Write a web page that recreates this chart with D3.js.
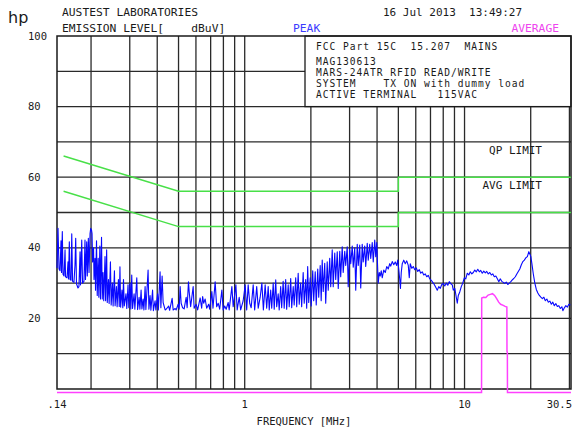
<!DOCTYPE html>
<html><head><meta charset="utf-8">
<script src="https://cdn.jsdelivr.net/npm/d3@7"></script>
<style>
html,body{margin:0;padding:0;background:#fff;}
svg text{font-family:"DejaVu Sans Mono",monospace;white-space:pre;fill:#1a1a1a;}
</style></head><body>
<svg id="chart" width="572" height="428"></svg>
<script>
// Frequency axis: labelled ticks and log grid lines (MHz)
const freqTicks = [0.14, 1, 10, 30.5];
const freqTickLabels = [".14", "1", "10", "30.5"];
const freqGrid = [0.2,0.3,0.4,0.5,0.6,0.7,0.8,0.9,1,2,3,4,5,6,7,8,9,10,20,30];
// Level axis (dBuV)
const levelTicks = [20, 40, 60, 80, 100];
const levelGrid = [10,20,30,40,50,60,70,80,90];

// FCC 15.207 conducted limits [MHz, dBuV]
const qpLimit  = [[0.15,66],[0.5,56],[5,56],[5,60],[30.5,60]];
const avgLimit = [[0.15,56],[0.5,46],[5,46],[5,50],[30.5,50]];

// Average detector trace [MHz, dBuV]
const averageTrace = [[0.14,-1],[11.95,-1],[11.97,25.8],[12.2,26.0],[12.5,25.9],[12.8,26.6],
  [13.1,26.8],[13.4,27.0],[13.7,26.5],[14.0,25.6],[14.3,24.6],[14.6,24.0],[15.0,23.7],
  [15.3,23.4],[15.58,23.2],[15.6,10.6],[15.66,10.4],[15.68,-1],[30.5,-1]];

// Peak detector trace [MHz, dBuV]
const peakTrace = [
 [0.1400,34.3],[0.1415,45.5],[0.1430,34.0],[0.1445,33.5],[0.1460,42.0],[0.1468,33.0],[0.1480,44.6],[0.1491,32.5],
 [0.1507,32.0],[0.1523,39.4],[0.1531,31.8],[0.1555,31.5],[0.1571,36.0],[0.1580,31.2],[0.1593,41.7],[0.1605,31.0],
 [0.1622,30.8],[0.1634,44.0],[0.1648,30.5],[0.1672,30.2],[0.1690,35.0],[0.1703,42.7],[0.1717,29.8],[0.1744,28.6],
 [0.1762,29.0],[0.1782,38.9],[0.1791,29.5],[0.1814,42.2],[0.1829,30.0],[0.1857,30.5],[0.1877,42.2],[0.1887,31.0],
 [0.1911,41.7],[0.1923,32.0],[0.1944,42.7],[0.1958,33.0],[0.1979,44.0],[0.1993,45.5],[0.2010,45.0],[0.2021,44.0],
 [0.2032,36.0],[0.2053,40.0],[0.2063,31.0],[0.2085,37.0],[0.2096,28.0],[0.2118,42.0],[0.2134,26.5],[0.2156,37.0],
 [0.2170,26.0],[0.2193,40.5],[0.2207,25.5],[0.2232,43.0],[0.2249,25.5],[0.2267,33.0],[0.2284,25.0],[0.2315,37.5],
 [0.2329,25.0],[0.2355,39.4],[0.2370,24.5],[0.2400,31.0],[0.2417,24.2],[0.2450,36.0],[0.2469,23.8],[0.2501,30.0],
 [0.2520,23.5],[0.2555,33.5],[0.2573,23.6],[0.2609,29.0],[0.2628,23.3],[0.2664,31.0],[0.2687,23.4],[0.2707,34.6],
 [0.2727,23.2],[0.2765,28.0],[0.2789,23.0],[0.2809,31.0],[0.2833,23.5],[0.2884,27.0],[0.2908,22.8],[0.2946,29.5],
 [0.2971,23.0],[0.3009,30.0],[0.3034,22.7],[0.3063,32.3],[0.3089,22.8],[0.3139,27.0],[0.3165,22.6],[0.3229,31.5],
 [0.3257,22.5],[0.3308,26.0],[0.3336,22.6],[0.3378,28.0],[0.3407,22.7],[0.3450,25.5],[0.3479,22.4],[0.3523,29.0],
 [0.3552,22.5],[0.3635,33.7],[0.3666,22.6],[0.3711,26.5],[0.3743,22.3],[0.3810,28.0],[0.3842,22.2],[0.3911,25.0],
 [0.3944,22.4],[0.4015,27.0],[0.4048,22.4],[0.4121,33.2],[0.4156,23.0],
 [0.4210,32.0],[0.4255,24.5],[0.4345,22.4],[0.4391,22.6],[0.4508,23.5],[0.4555,22.3],[0.4676,25.7],[0.4726,22.4],
 [0.4826,22.8],[0.4877,22.4],[0.4980,24.0],[0.5033,22.6],[0.5085,29.0],[0.5139,24.3],[0.5220,23.0],[0.5303,22.7],
 [0.5416,26.0],[0.5472,23.0],[0.5548,30.4],[0.5589,27.6],[0.5677,23.3],[0.5828,29.0],[0.5889,22.9],[0.6014,24.0],
 [0.6109,22.4],[0.6271,25.8],[0.6371,22.9],[0.6438,26.2],[0.6506,24.3],[0.6609,25.5],[0.6714,22.9],[0.6856,24.0],
 [0.6928,22.6],[0.7088,27.6],[0.7172,22.9],[0.7338,30.4],[0.7455,23.3],[0.7573,24.3],[0.7693,22.6],[0.7872,28.0],
 [0.7980,22.4],[0.8107,23.5],[0.8236,22.6],[0.8410,24.5],[0.8499,22.4],[0.8742,29.0],[0.8862,23.3],[0.9118,29.5],
 [0.9241,22.4],[0.9438,26.0],[0.9587,22.4],[0.9841,25.0],[1.005,29.5],[1.021,22.4],[1.037,29.5],[1.054,24.3],
 [1.070,23.0],[1.093,29.5],[1.110,22.4],[1.134,29.0],[1.152,22.9],[1.176,26.0],[1.197,30.0],[1.216,22.4],
 [1.239,29.5],[1.259,22.9],
 [1.279,29.0],[1.293,22.4],[1.313,28.0],[1.327,22.9],[1.348,30.0],[1.362,22.6],[1.384,30.9],[1.398,23.3],
 [1.420,27.0],[1.435,22.4],[1.458,29.0],[1.473,23.0],[1.496,30.5],[1.512,22.9],[1.536,31.0],[1.552,22.6],
 [1.577,29.5],[1.594,23.3],[1.619,31.3],[1.636,23.0],[1.662,29.0],[1.679,23.8],[1.706,31.5],[1.724,23.3],
 [1.751,32.8],[1.770,24.0],[1.797,30.0],[1.816,23.3],[1.845,33.0],[1.865,24.3],[1.894,31.0],[1.914,22.9],
 [1.934,34.7],[1.955,24.5],[1.986,31.5],[2.007,23.5],[2.039,33.5],[2.060,25.0],[2.093,33.2],[2.115,23.8],
 [2.149,34.0],[2.171,26.0],[2.205,35.0],[2.228,25.0],[2.252,36.5],[2.276,27.6],[2.312,35.6],[2.336,24.3],
 [2.373,36.0],[2.398,28.0],[2.436,37.0],[2.462,29.0],[2.501,39.4],[2.527,29.0],[2.568,38.5],[2.594,31.0],
 [2.636,38.9],[2.664,28.5],[2.706,39.0],[2.733,31.8],[2.777,40.3],[2.806,33.0],[2.851,39.0],[2.881,35.0],
 [2.926,40.3],[2.957,29.0],[3.004,39.5],[3.036,35.5],[3.084,40.5],[3.117,34.5],[3.166,40.0],[3.199,28.0],
 [3.250,41.0],[3.285,35.0],[3.336,40.8],[3.371,28.6],[3.424,41.0],[3.460,36.0],[3.515,40.5],[3.552,34.7],
 [3.609,41.3],[3.647,36.5],[3.704,41.0],[3.744,37.0],[3.803,41.5],[3.843,36.0],[3.904,42.2],[3.945,37.5],
 [3.987,41.5],[4.016,36.0],[4.050,30.0],[4.093,33.0],
 [4.135,32.0],[4.179,33.5],[4.223,31.5],[4.290,33.7],[4.358,33.0],[4.427,34.7],[4.497,34.0],[4.568,35.5],
 [4.616,34.8],[4.689,36.1],[4.764,35.2],[4.840,36.0],[4.916,35.0],[4.968,36.5],[5.020,34.0],[5.073,31.0],
 [5.111,28.5],[5.154,33.0],[5.208,35.5],[5.291,36.5],[5.374,35.5],[5.460,36.3],[5.547,35.0],[5.605,31.5],
 [5.663,35.5],[5.753,34.2],[5.844,34.7],[5.937,33.8],[6.031,34.3],[6.127,33.3],[6.224,33.8],[6.321,32.8],
 [6.421,33.2],[6.523,32.3],[6.627,32.6],[6.732,31.8],[6.839,32.2],[6.947,31.2],[7.057,30.8],[7.169,30.2],
 [7.283,29.6],[7.398,28.8],[7.515,28.0],[7.635,29.0],[7.755,28.5],[7.878,29.6],[8.003,29.9],[8.130,29.2],
 [8.259,30.0],[8.390,29.4],[8.524,30.4],[8.658,29.8],[8.795,29.5],[8.888,28.0],[9.029,28.5],[9.172,26.0],
 [9.268,24.3],[9.366,26.5],[9.514,27.5],[9.664,29.0],[9.817,30.0],[9.973,31.5],[10.13,31.2],[10.29,32.8],
 [10.46,32.3],[10.62,33.2],[10.79,32.6],[10.96,33.0],[11.13,33.7],[11.31,33.2],[11.49,33.9],
 [11.67,33.2],[11.85,33.6],[12.04,32.8],[12.23,33.4],[12.43,32.9],[12.62,33.3],[12.82,32.6],[13.03,33.0],
 [13.24,32.3],[13.45,32.6],[13.66,31.8],[13.88,32.0],[14.10,31.2],[14.32,30.4],[14.54,31.2],[14.77,30.5],
 [15.01,30.2],[15.24,29.9],[15.49,30.3],[15.73,29.6],[15.98,30.0],[16.24,30.4],[16.49,30.9],[16.75,31.3],
 [17.02,31.8],[17.29,32.6],[17.56,33.3],[17.84,34.0],[18.13,35.2],[18.42,36.1],[18.71,36.5],[19.01,37.2],
 [19.31,37.5],[19.61,38.9],[19.82,38.2],[20.03,37.5],[20.24,35.6],[20.56,32.5],[20.88,30.0],[21.21,28.2],
 [21.55,27.2],[21.89,26.5],[22.24,26.0],[22.59,25.6],[22.95,26.0],[23.31,25.0],[23.68,25.5],[24.06,24.6],
 [24.44,24.9],[24.82,24.0],[25.21,24.6],[25.61,23.6],[26.02,24.2],[26.43,23.4],[26.85,23.6],[27.28,22.8],
 [27.71,23.3],[28.01,22.2],[28.45,23.0],[28.90,23.6],[29.36,23.2],[29.83,24.0],[30.29,23.8]
];

const svg = d3.select("#chart");
const x = d3.scaleLog().domain([0.14, 30.5]).range([57, 571]);
const y = d3.scaleLinear().domain([0, 100]).range([389, 36]);

// grid
const grid = svg.append("g").attr("stroke", "#2a2a2a").attr("stroke-width", 1.3);
grid.selectAll("line.v").data(freqGrid).join("line")
  .attr("x1", d => x(d)).attr("x2", d => x(d))
  .attr("y1", y(0)).attr("y2", y(100));
grid.selectAll("line.h").data(levelGrid).join("line")
  .attr("x1", x(0.14)).attr("x2", x(30.5))
  .attr("y1", d => y(d)).attr("y2", d => y(d));

// info panel covering the upper-right grid
const panelX = 305;
svg.append("rect").attr("x", panelX).attr("y", y(100))
  .attr("width", x(30.5) - panelX).attr("height", y(80) - y(100))
  .attr("fill", "#fff").attr("stroke", "#1a1a1a").attr("stroke-width", 1.3);

// plot frame
svg.append("rect").attr("x", x(0.14)).attr("y", y(100))
  .attr("width", x(30.5) - x(0.14)).attr("height", y(0) - y(100))
  .attr("fill", "none").attr("stroke", "#1a1a1a").attr("stroke-width", 1.5);

const line = d3.line().x(d => x(d[0])).y(d => y(d[1]));

// limits
[qpLimit, avgLimit].forEach(lim => {
  svg.append("path").datum(lim).attr("d", line)
    .attr("fill", "none").attr("stroke", "#48e048").attr("stroke-width", 1.5);
});

// traces
svg.append("path").datum(peakTrace).attr("d", line)
  .attr("fill", "none").attr("stroke", "#0808ff").attr("stroke-width", 1.1)
  .attr("stroke-linejoin", "round");
svg.append("path").datum(averageTrace).attr("d", line)
  .attr("fill", "none").attr("stroke", "#ff40ff").attr("stroke-width", 1.5);

// y tick labels
svg.selectAll("text.yl").data(levelTicks).join("text")
  .attr("x", 28).attr("y", d => y(d)).attr("dy", "0.35em")
  .attr("font-size", 10.5).text(d => d);

// x tick labels
svg.selectAll("text.xl").data(freqTicks).join("text")
  .attr("x", (d, i) => i === freqTicks.length - 1 ? 572 : x(d))
  .attr("y", 408)
  .attr("text-anchor", (d, i) => i === freqTicks.length - 1 ? "end" : "middle")
  .attr("font-size", 10.5).text((d, i) => freqTickLabels[i]);

svg.append("text").attr("x", 304).attr("y", 425).attr("text-anchor", "middle")
  .attr("font-size", 10.5).text("FREQUENCY [MHz]");

// header
svg.append("text").attr("x", 8).attr("y", 23).attr("font-size", 16)
  .style("font-family", "'DejaVu Sans',sans-serif").text("hp");
svg.append("text").attr("x", 62).attr("y", 16).attr("font-size", 11.3).text("AUSTEST LABORATORIES");
svg.append("text").attr("x", 62).attr("y", 32).attr("font-size", 11.3).text("EMISSION LEVEL[    dBuV]");
svg.append("text").attr("x", 293).attr("y", 32).attr("font-size", 11.3)
  .style("fill", "#3a3aff").text("PEAK");
svg.append("text").attr("x", 383).attr("y", 16).attr("font-size", 11).text("16 Jul 2013  13:49:27");
svg.append("text").attr("x", 559).attr("y", 32).attr("font-size", 11.3).attr("text-anchor", "end")
  .style("fill", "#ee44ee").text("AVERAGE");

// panel text, compact line pitch
const panelLines = ["FCC Part 15C  15.207  MAINS", "MAG130613", "MARS-24ATR RFID READ/WRITE",
  "SYSTEM    TX ON with dummy load", "ACTIVE TERMINAL   115VAC"];
const panelBaselines = [50, 65, 76, 87, 98];
svg.selectAll("text.pl").data(panelLines).join("text")
  .attr("x", 316).attr("y", (d, i) => panelBaselines[i])
  .attr("font-size", 9.6).attr("letter-spacing", 0.97).text(d => d);

// limit labels
svg.append("text").attr("x", 542).attr("y", 154).attr("text-anchor", "end")
  .attr("font-size", 11).text("QP LIMIT");
svg.append("text").attr("x", 542).attr("y", 189).attr("text-anchor", "end")
  .attr("font-size", 11).text("AVG LIMIT");
</script></body></html>
